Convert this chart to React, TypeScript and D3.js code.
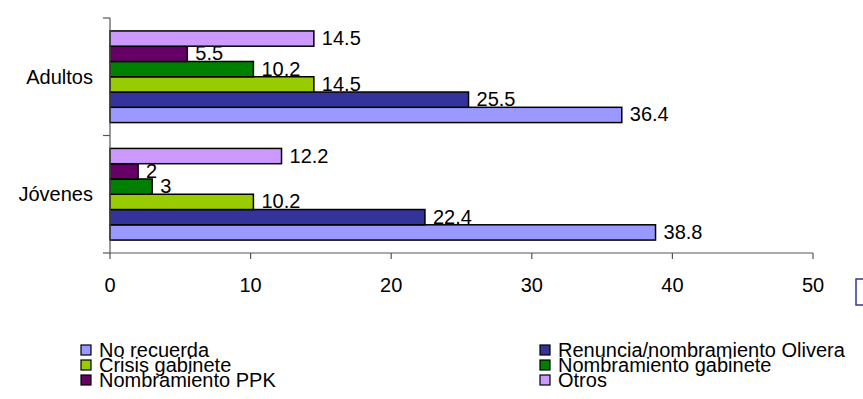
import React from "react";
import * as d3 from "d3";

const categories = ["Adultos", "Jóvenes"];
const seriesNames = [
  "No recuerda",
  "Renuncia/nombramiento Olivera",
  "Crisis gabinete",
  "Nombramiento gabinete",
  "Nombramiento PPK",
  "Otros",
];
const adultosValues = [36.4, 25.5, 14.5, 10.2, 5.5, 14.5];
const jovenesValues = [38.8, 22.4, 10.2, 3, 2, 12.2];
const xTickValues = [0, 10, 20, 30, 40, 50];
const seriesColors = ["#9999FF", "#333399", "#99CC00", "#008000", "#660066", "#CC99FF"];

const W = 863;
const H = 399;
const FONT = "'Liberation Sans', Arial, Helvetica, sans-serif";

export default function App() {
  const left = 110;
  const right = 813;
  const top = 18;
  const bottom = 253;

  const x = d3.scaleLinear().domain([0, 50]).range([left, right]);
  const y = d3
    .scaleBand<string>()
    .domain(categories)
    .range([top, bottom])
    .paddingInner(0.22)
    .paddingOuter(0.11);
  const inner = d3
    .scaleBand<string>()
    .domain([...seriesNames].reverse())
    .range([0, y.bandwidth()])
    .padding(0);

  const valuesByCat: Record<string, number[]> = {
    Adultos: adultosValues,
    "Jóvenes": jovenesValues,
  };

  const catBoundaries = [top, ...categories.slice(1).map((c) => y(c)! - (y.step() * y.paddingInner()) / 2), bottom];

  const legendRows = [0, 1, 2];
  const legendColX = [81, 540];
  const legendY0 = 350;
  const legendDy = 15;

  return (
    <svg
      width={W}
      height={H}
      style={{ position: "absolute", left: 0, top: 0, background: "#fff" }}
      fontFamily={FONT}
    >
      <rect x={0} y={0} width={W} height={H} fill="#fff" />

      {/* bars */}
      {categories.map((c) => (
        <g key={c} transform={`translate(0,${y(c)})`}>
          {seriesNames.map((s, i) => {
            const v = valuesByCat[c][i];
            const by = inner(s)!;
            const bh = inner.bandwidth();
            return (
              <g key={s}>
                <rect
                  x={x(0)}
                  y={by}
                  width={x(v) - x(0)}
                  height={bh}
                  fill={seriesColors[i]}
                  stroke="#000"
                  strokeWidth={1.5}
                />
                <text x={x(v) + 8} y={by + bh / 2 + 6.5} fontSize={20} fill="#000">
                  {String(v)}
                </text>
              </g>
            );
          })}
        </g>
      ))}

      {/* y axis */}
      <line x1={left} x2={left} y1={top} y2={bottom} stroke="#555" strokeWidth={1.2} />
      {catBoundaries.map((b, i) => (
        <line key={i} x1={left - 7} x2={left} y1={b} y2={b} stroke="#555" strokeWidth={1.2} />
      ))}
      {categories.map((c) => (
        <text
          key={c}
          x={93}
          y={y(c)! + y.bandwidth() / 2 + 7}
          textAnchor="end"
          fontSize={20}
          fill="#000"
        >
          {c}
        </text>
      ))}

      {/* x axis */}
      <line x1={left} x2={right} y1={bottom} y2={bottom} stroke="#555" strokeWidth={1.2} />
      {xTickValues.map((t) => (
        <g key={t}>
          <line x1={x(t)} x2={x(t)} y1={bottom} y2={bottom + 6} stroke="#555" strokeWidth={1.2} />
          <text x={x(t)} y={292} textAnchor="middle" fontSize={20} fill="#000">
            {t}
          </text>
        </g>
      ))}

      {/* clipped frame at right */}
      <rect x={856} y={279} width={20} height={26} fill="#fff" stroke="#333399" strokeWidth={1.5} />

      {/* legend */}
      {seriesNames.map((s, i) => {
        const col = i % 2;
        const row = Math.floor(i / 2);
        const lx = legendColX[col];
        const ly = legendY0 + legendRows[row] * legendDy;
        return (
          <g key={s}>
            <rect x={lx} y={ly - 5} width={10} height={10} fill={seriesColors[i]} stroke="#000" strokeWidth={1.2} />
            <text x={lx + 18} y={ly + 7} fontSize={20} fill="#000">
              {s}
            </text>
          </g>
        );
      })}
    </svg>
  );
}
